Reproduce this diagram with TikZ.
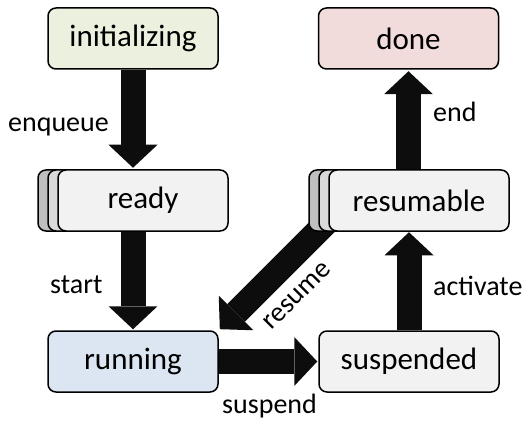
\documentclass[tikz,border=0pt]{standalone}
\usepackage{fontspec}
\setmainfont{Carlito}
\usetikzlibrary{arrows.meta,calc}
\definecolor{cInit}{HTML}{EBF1DE}
\definecolor{cDone}{HTML}{F2DCDB}
\definecolor{cRun}{HTML}{DCE6F2}
\definecolor{cGrayA}{HTML}{F2F2F2}
\definecolor{cGrayB}{HTML}{D9D9D9}
\definecolor{cGrayC}{HTML}{BFBFBF}
\definecolor{cArrow}{HTML}{0D0D0D}
\tikzset{
  state/.style={draw=black, line width=1.5pt, rounded corners=8pt, minimum height=61pt,
    inner sep=0pt, font=\fontsize{31}{36}\selectfont, text=black},
  narrowbox/.style={state, minimum width=170pt},
  widebox/.style={state, minimum width=180pt},
  blockarrow/.style={draw=cArrow, line width=25pt,
    -{Triangle[width=49pt,length=23pt,line width=0pt,fill=cArrow]}},
  lbl/.style={font=\fontsize{28}{32}\selectfont, inner sep=0pt, text=black}
}
\begin{document}
\begin{tikzpicture}[x=1pt,y=-1pt]
\useasboundingbox (0,0) rectangle (524,422);
% nodes (front boxes) defined first for geometry
\node[narrowbox, fill=cInit] (init) at (133,38.5) {initializing};
\node[widebox, fill=cDone] (done) at (408.5,38.5) {done};
\node[narrowbox, fill=cRun] (running) at (133,361.5) {running};
\node[widebox, fill=cGrayA] (suspended) at (409,361.5) {suspended};
% resume arrow behind stack
\coordinate (resumeStart) at (332,217);
\draw[blockarrow, shorten >=1.5pt] (resumeStart) -- (running.north east);
% stacks
\node[narrowbox, fill=cGrayC] (readyC) at (123,200.5) {};
\node[narrowbox, fill=cGrayB] (readyB) at (133,200.5) {};
\node[narrowbox, fill=cGrayA] (ready) at (143,200.5) {ready};
\node[widebox, fill=cGrayC] (resumableC) at (399,200.5) {};
\node[widebox, fill=cGrayB] (resumableB) at (409,200.5) {};
\node[widebox, fill=cGrayA] (resumable) at (419,200.5) {resumable};
% arrows
\draw[blockarrow, shorten >=1.5pt] (init.south) -- (init.south |- ready.north);
\draw[blockarrow, shorten >=1pt] (running.north |- ready.south) -- (running.north);
\draw[blockarrow, shorten >=1.5pt] (done.south |- resumable.north) -- (done.south);
\draw[blockarrow, shorten >=0.5pt] (suspended.north) -- (suspended.north |- resumable.south);
\draw[blockarrow, shorten >=1pt] (running.east) -- (suspended.west);
% labels
\node[lbl, anchor=base west] (lEnqueue) at (8,131.5) {enqueue};
\node[lbl, anchor=base west] (lEnd) at (433,121.5) {end};
\node[lbl, anchor=base west] (lStart) at (50,293) {start};
\node[lbl, anchor=base west] (lActivate) at (433,295) {activate};
\node[lbl, anchor=base west] (lSuspend) at (222,413) {suspend};
\node[lbl, rotate=45] (lResume) at (297,296) {resume};
\end{tikzpicture}
\end{document}
